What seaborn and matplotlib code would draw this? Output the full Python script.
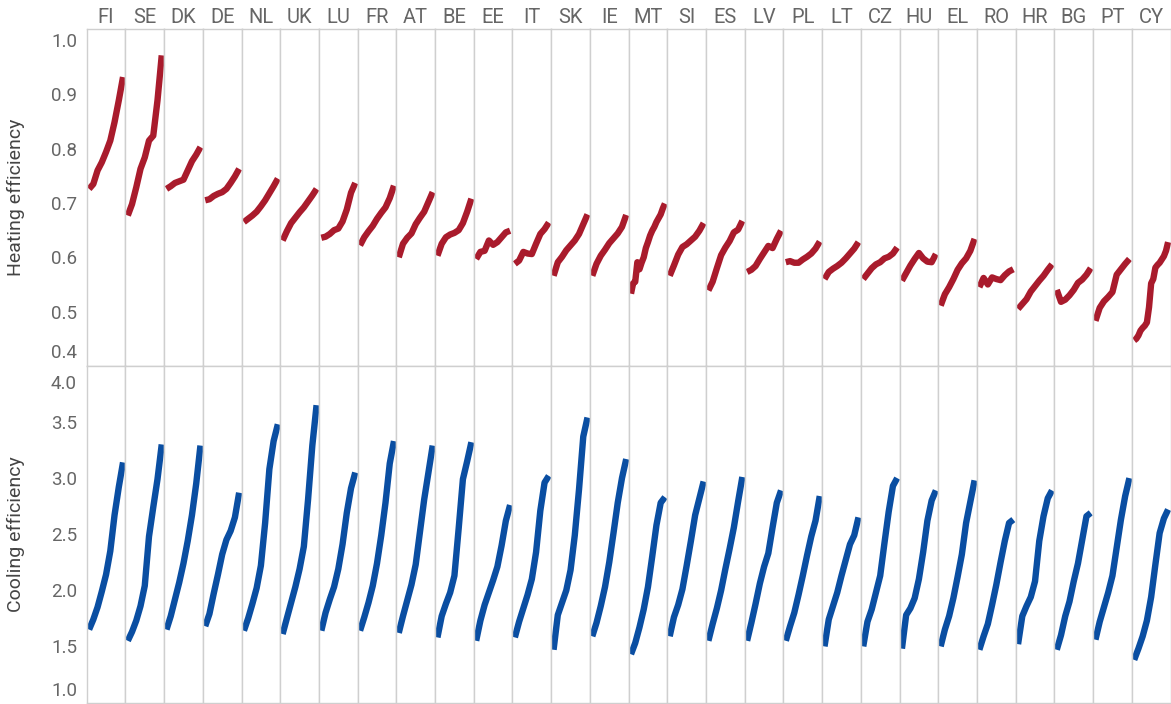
import numpy as np
import pandas as pd
import matplotlib
matplotlib.use("Agg")
import matplotlib.pyplot as plt
import matplotlib.transforms as mtransforms
import seaborn as sns

countries = ["FI", "SE", "DK", "DE", "NL", "UK", "LU", "FR", "AT", "BE",
             "EE", "IT", "SK", "IE", "MT", "SI", "ES", "LV", "PL", "LT",
             "CZ", "HU", "EL", "RO", "HR", "BG", "PT", "CY"]

# Heating efficiency, ordered from lowest to highest within each country
heat_FI = [0.726, 0.735, 0.760, 0.775, 0.794, 0.815, 0.849, 0.889, 0.932]
heat_SE = [0.677, 0.698, 0.729, 0.763, 0.784, 0.815, 0.824, 0.889, 0.972]
heat_DK = [0.726, 0.731, 0.737, 0.740, 0.743, 0.760, 0.777, 0.789, 0.803]
heat_DE = [0.705, 0.707, 0.713, 0.717, 0.720, 0.726, 0.737, 0.749, 0.763]
heat_NL = [0.665, 0.671, 0.677, 0.684, 0.694, 0.705, 0.718, 0.731, 0.745]
heat_UK = [0.631, 0.648, 0.663, 0.673, 0.683, 0.692, 0.703, 0.714, 0.726]
heat_LU = [0.636, 0.638, 0.643, 0.650, 0.653, 0.666, 0.688, 0.719, 0.737]
heat_FR = [0.622, 0.637, 0.648, 0.658, 0.671, 0.682, 0.692, 0.709, 0.732]
heat_AT = [0.600, 0.625, 0.636, 0.644, 0.661, 0.673, 0.684, 0.702, 0.720]
heat_BE = [0.603, 0.625, 0.637, 0.642, 0.645, 0.650, 0.663, 0.684, 0.708]
heat_EE = [0.597, 0.610, 0.612, 0.631, 0.623, 0.628, 0.637, 0.646, 0.649]
heat_IT = [0.588, 0.594, 0.610, 0.607, 0.606, 0.625, 0.643, 0.652, 0.664]
heat_SK = [0.566, 0.591, 0.601, 0.613, 0.622, 0.631, 0.643, 0.661, 0.679]
heat_IE = [0.566, 0.588, 0.603, 0.614, 0.626, 0.635, 0.644, 0.656, 0.678]
heat_MT = [0.533, 0.552, 0.555, 0.591, 0.578, 0.590, 0.600, 0.617, 0.628,
           0.640, 0.649, 0.656, 0.665, 0.672, 0.679, 0.690, 0.699]
heat_SI = [0.566, 0.585, 0.605, 0.619, 0.624, 0.631, 0.638, 0.649, 0.663]
heat_ES = [0.539, 0.555, 0.580, 0.604, 0.618, 0.630, 0.646, 0.651, 0.667]
heat_LV = [0.573, 0.577, 0.584, 0.597, 0.609, 0.621, 0.617, 0.634, 0.649]
heat_PL = [0.591, 0.593, 0.590, 0.590, 0.596, 0.601, 0.607, 0.616, 0.629]
heat_LT = [0.560, 0.573, 0.579, 0.584, 0.590, 0.598, 0.607, 0.616, 0.628]
heat_CZ = [0.560, 0.570, 0.580, 0.587, 0.591, 0.598, 0.601, 0.607, 0.618]
heat_HU = [0.557, 0.571, 0.585, 0.597, 0.608, 0.598, 0.592, 0.591, 0.606]
heat_EL = [0.511, 0.532, 0.545, 0.560, 0.577, 0.589, 0.598, 0.612, 0.634]
heat_RO = [0.545, 0.562, 0.550, 0.563, 0.560, 0.558, 0.567, 0.574, 0.578]
heat_HR = [0.505, 0.514, 0.523, 0.537, 0.547, 0.557, 0.566, 0.577, 0.587]
heat_BG = [0.540, 0.518, 0.522, 0.530, 0.540, 0.553, 0.559, 0.568, 0.580]
heat_PT = [0.483, 0.507, 0.519, 0.527, 0.536, 0.568, 0.578, 0.588, 0.597]
heat_CY = [0.447, 0.450, 0.456, 0.465, 0.470, 0.474, 0.480, 0.508, 0.552,
           0.560, 0.581, 0.586, 0.590, 0.596, 0.602, 0.612, 0.628]

# Cooling efficiency, ordered from lowest to highest within each country
cool_FI = [1.65, 1.74, 1.85, 1.99, 2.14, 2.35, 2.67, 2.92, 3.14]
cool_SE = [1.55, 1.63, 1.73, 1.86, 2.04, 2.48, 2.74, 2.99, 3.30]
cool_DK = [1.65, 1.77, 1.92, 2.07, 2.24, 2.44, 2.67, 2.95, 3.29]
cool_DE = [1.68, 1.79, 1.97, 2.14, 2.32, 2.45, 2.53, 2.65, 2.87]
cool_NL = [1.64, 1.75, 1.88, 2.02, 2.22, 2.60, 3.08, 3.33, 3.48]
cool_UK = [1.61, 1.75, 1.89, 2.03, 2.19, 2.39, 2.81, 3.29, 3.65]
cool_LU = [1.64, 1.80, 1.92, 2.03, 2.19, 2.41, 2.69, 2.91, 3.05]
cool_FR = [1.64, 1.76, 1.89, 2.04, 2.24, 2.49, 2.78, 3.13, 3.33]
cool_AT = [1.62, 1.77, 1.91, 2.05, 2.23, 2.52, 2.81, 3.05, 3.29]
cool_BE = [1.58, 1.77, 1.88, 1.98, 2.13, 2.55, 2.99, 3.15, 3.32]
cool_EE = [1.55, 1.73, 1.87, 1.98, 2.09, 2.21, 2.40, 2.62, 2.76]
cool_IT = [1.58, 1.72, 1.84, 1.96, 2.10, 2.34, 2.71, 2.96, 3.02]
cool_SK = [1.47, 1.78, 1.89, 2.00, 2.18, 2.49, 2.90, 3.37, 3.54]
cool_IE = [1.59, 1.71, 1.86, 2.03, 2.25, 2.51, 2.78, 3.00, 3.17]
cool_MT = [1.43, 1.53, 1.67, 1.83, 2.03, 2.30, 2.58, 2.78, 2.83]
cool_SI = [1.59, 1.76, 1.87, 2.01, 2.22, 2.44, 2.67, 2.82, 2.97]
cool_ES = [1.55, 1.70, 1.84, 2.00, 2.19, 2.37, 2.56, 2.79, 3.01]
cool_LV = [1.55, 1.71, 1.88, 2.06, 2.21, 2.33, 2.56, 2.78, 2.89]
cool_PL = [1.55, 1.68, 1.80, 1.96, 2.13, 2.31, 2.48, 2.62, 2.84]
cool_LT = [1.50, 1.74, 1.86, 1.98, 2.13, 2.27, 2.41, 2.49, 2.65]
cool_CZ = [1.50, 1.72, 1.83, 1.98, 2.13, 2.42, 2.70, 2.93, 3.00]
cool_HU = [1.48, 1.78, 1.84, 1.93, 2.10, 2.34, 2.62, 2.80, 2.89]
cool_EL = [1.50, 1.65, 1.77, 1.93, 2.12, 2.32, 2.60, 2.79, 2.98]
cool_RO = [1.47, 1.59, 1.70, 1.87, 2.05, 2.25, 2.44, 2.60, 2.63]
cool_HR = [1.52, 1.77, 1.86, 1.94, 2.08, 2.44, 2.66, 2.82, 2.89]
cool_BG = [1.47, 1.60, 1.77, 1.90, 2.08, 2.24, 2.45, 2.66, 2.69]
cool_PT = [1.56, 1.72, 1.85, 1.98, 2.13, 2.38, 2.63, 2.84, 3.00]
cool_CY = [1.38, 1.48, 1.59, 1.73, 1.94, 2.23, 2.51, 2.64, 2.72]

heating_series = [heat_FI, heat_SE, heat_DK, heat_DE, heat_NL, heat_UK, heat_LU,
                  heat_FR, heat_AT, heat_BE, heat_EE, heat_IT, heat_SK, heat_IE,
                  heat_MT, heat_SI, heat_ES, heat_LV, heat_PL, heat_LT, heat_CZ,
                  heat_HU, heat_EL, heat_RO, heat_HR, heat_BG, heat_PT, heat_CY]
cooling_series = [cool_FI, cool_SE, cool_DK, cool_DE, cool_NL, cool_UK, cool_LU,
                  cool_FR, cool_AT, cool_BE, cool_EE, cool_IT, cool_SK, cool_IE,
                  cool_MT, cool_SI, cool_ES, cool_LV, cool_PL, cool_LT, cool_CZ,
                  cool_HU, cool_EL, cool_RO, cool_HR, cool_BG, cool_PT, cool_CY]

metrics = ["Heating efficiency", "Cooling efficiency"]
heat_ticks = [0.4, 0.5, 0.6, 0.7, 0.8, 0.9, 1.0]
cool_ticks = [1.0, 1.5, 2.0, 2.5, 3.0, 3.5, 4.0]

# Long-form table: one row per point, position = rank share within the country
records = []
for metric, series in zip(metrics, (heating_series, cooling_series)):
    for country, vals in zip(countries, series):
        for p, v in zip(np.linspace(0, 1, len(vals)), vals):
            records.append({"metric": metric, "country": country,
                            "position": p, "value": v})
df = pd.DataFrame(records)

sns.set_style("white")
plt.rcParams["font.family"] = ["Roboto", "DejaVu Sans"]

TEXT = "#666666"
GRID = "#cfcfcf"
palette = {"Heating efficiency": "#a91b2c", "Cooling efficiency": "#0a4ea2"}

g = sns.relplot(
    data=df, x="position", y="value", row="metric", col="country",
    hue="metric", kind="line", row_order=metrics, col_order=countries,
    palette=palette, linewidth=4.6, errorbar=None, legend=False,
    height=3.37, aspect=0.115, solid_capstyle="butt",
    facet_kws=dict(sharex=True, sharey="row", despine=False),
)

fig = g.figure
fig.set_size_inches(11.71, 7.04)

for ax in g.axes.flat:
    ax.set_title("")
    ax.set_xlabel("")
    ax.set_ylabel("")
    ax.set_xlim(-0.07, 1.07)
    ax.set_xticks([])
    for s in ax.spines.values():
        s.set_color(GRID)
        s.set_linewidth(1.0)
    ax.tick_params(axis="y", length=0, pad=7, labelsize=13.5, labelcolor=TEXT)

top0, bot0 = g.axes[0, 0], g.axes[1, 0]
top0.set_ylim(0.4, 1.02)
top0.set_yticks(heat_ticks)
top0.set_yticklabels([f"{t:.1f}" for t in heat_ticks])
bot0.set_ylim(1.0, 4.0)
bot0.set_yticks(cool_ticks)
bot0.set_yticklabels([f"{t:.1f}" for t in cool_ticks])

for row in g.axes:
    for ax in row[1:]:
        ax.tick_params(axis="y", labelleft=False)

for ax, c in zip(g.axes[0], countries):
    ax.set_title(c, fontsize=14.5, color=TEXT, pad=4.5)

for ax, label in zip((top0, bot0), metrics):
    ax.set_ylabel(label, fontsize=14, color="#444444")
    ax.yaxis.set_label_coords(-1.6, 0.5)

fig.subplots_adjust(left=86.7 / 1171, right=1170.5 / 1171,
                    top=1 - 29.3 / 704, bottom=1 - 702.5 / 704,
                    wspace=0, hspace=0)

# Keep the outermost tick labels inside their panel
def shift_label(ax, text, dy_px):
    for lbl in ax.get_yticklabels():
        if lbl.get_text() == text:
            lbl.set_transform(lbl.get_transform() +
                              mtransforms.ScaledTranslation(0, dy_px / 100, fig.dpi_scale_trans))

shift_label(top0, "0.4", 15)
shift_label(bot0, "1.0", 14)
shift_label(bot0, "4.0", -16)

fig.savefig("out.png", dpi=100)
